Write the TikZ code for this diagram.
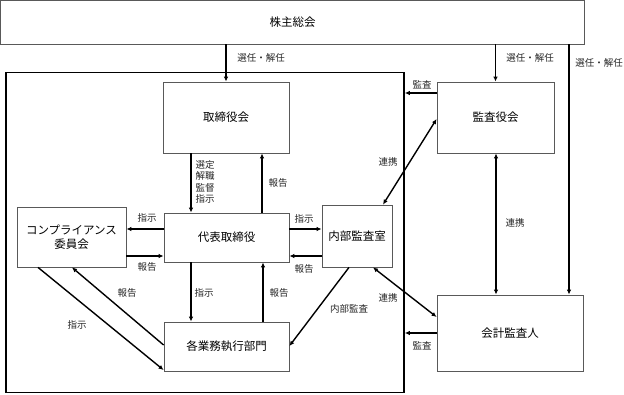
\documentclass[tikz,border=0pt]{standalone}
\usepackage{fontspec}
\setmainfont{Noto Sans CJK JP}
\usetikzlibrary{arrows.meta,calc}
\begin{document}
\begin{tikzpicture}[x=1pt,y=-1pt,
  box/.style={draw=black!65,line width=0.8pt,inner sep=0pt,font=\fontsize{11.5}{14}\selectfont,align=center},
  arr/.style={line width=1.4pt,-{Latex[length=5pt,width=4.5pt]}},
  darr/.style={line width=1.4pt,{Latex[length=5pt,width=4.5pt]}-{Latex[length=5pt,width=4.5pt]}},
  lab/.style={font=\fontsize{9.5}{11.3}\selectfont,inner sep=0pt,align=center,text=black!85}]
\useasboundingbox (0,0) rectangle (624,394);
% boxes
\node[box,minimum width=584,minimum height=43.5] (share) at (292.5,22.25) {株主総会};
\node[draw,line width=1.6pt,inner sep=0pt,minimum width=398,minimum height=320] (frame) at (205,232.5) {};
\node[box,minimum width=126,minimum height=71] (bod) at (226,117.5) {取締役会};
\node[box,minimum width=125,minimum height=49] (ceo) at (226.5,237.5) {代表取締役};
\node[box,minimum width=109,minimum height=60] (comp) at (71.5,237) {コンプライアンス\\委員会};
\node[box,minimum width=125,minimum height=49] (dept) at (226.5,346.5) {各業務執行部門};
\node[box,minimum width=70,minimum height=62] (iad) at (357,236) {内部監査室};
\node[box,minimum width=117,minimum height=71] (kansa) at (495.5,117.5) {監査役会};
\node[box,minimum width=146,minimum height=76] (aud) at (510,333) {会計監査人};
% connectors from shareholders
\draw[arr] (bod.north |- share.south) -- (bod.north);
\draw[arr] (kansa.north |- share.south) -- (kansa.north);
\draw[arr] (share.south -| 569,0) -- (aud.north -| 569,0);
% board <-> ceo
\draw[arr] (bod.south -| 191,0) -- (ceo.north -| 191,0);
\draw[arr] (ceo.north -| 262,0) -- (bod.south -| 262,0);
% ceo <-> dept
\draw[arr] (ceo.south -| 191,0) -- (dept.north -| 191,0);
\draw[arr] (dept.north -| 263,0) -- (ceo.south -| 263,0);
% ceo <-> compliance
\draw[arr] (ceo.west |- 0,229) -- (comp.east |- 0,229);
\draw[arr] (comp.east |- 0,256) -- (ceo.west |- 0,256);
% ceo <-> iad
\draw[arr] (ceo.east |- 0,229) -- (iad.west |- 0,229);
\draw[arr] (iad.west |- 0,256) -- (ceo.east |- 0,256);
% dept <-> compliance diagonals
\draw[arr] (dept.west |- 0,345) -- (comp.south -| 72,0);
\draw[arr] (comp.south -| 38,0) -- (dept.west |- 0,370);
% iad -> dept
\draw[arr] (iad.south -| 349,0) -- (dept.east |- 0,346);
% iad <-> kansa, auditor
\draw[darr] (iad.north -| 383,0) -- (kansa.west |- 0,119);
\draw[darr] (iad.south -| 373,0) -- (aud.west |- 0,317);
% kansa <-> auditor
\draw[darr] (kansa.south -| 496,0) -- (aud.north -| 496,0);
% audits into frame
\draw[arr] (kansa.west |- 0,93) -- (frame.east |- 0,93);
\draw[arr] (aud.west |- 0,333) -- (frame.east |- 0,333);
% labels
\node[lab] (l1) at (261,58) {選任・解任};
\node[lab] (l2) at (530,58) {選任・解任};
\node[lab] (l3) at (599,63) {選任・解任};
\node[lab] (l4) at (422,85) {監査};
\node[lab] (l5) at (422,346) {監査};
\node[lab] (l6) at (388,162) {連携};
\node[lab] (l7) at (388,298) {連携};
\node[lab] (l8) at (515,223) {連携};
\node[lab] (l9) at (349,309) {内部監査};
\node[lab] (l10) at (278,183) {報告};
\node[lab] (l11) at (205,182) {選定\\解職\\監督\\指示};
\node[lab] (l12) at (204,293) {指示};
\node[lab] (l13) at (279,293) {報告};
\node[lab] (l14) at (147,218) {指示};
\node[lab] (l15) at (147,267) {報告};
\node[lab] (l16) at (304,219) {指示};
\node[lab] (l17) at (304,269) {報告};
\node[lab] (l18) at (127,293) {報告};
\node[lab] (l19) at (77,325) {指示};
\end{tikzpicture}
\end{document}
